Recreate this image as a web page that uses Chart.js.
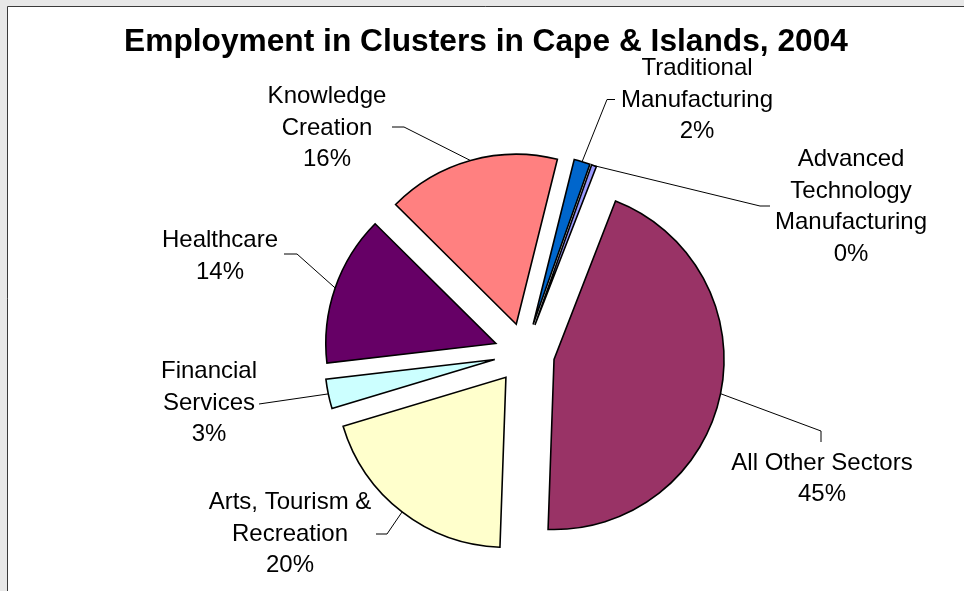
<!DOCTYPE html>
<html>
<head>
<meta charset="utf-8">
<script src="https://cdn.jsdelivr.net/npm/chart.js@4/dist/chart.umd.min.js"></script>
<style>
  html, body { margin: 0; padding: 0; background: #fff; }
  canvas { display: block; }
</style>
</head>
<body>
<canvas id="c" width="964" height="591"></canvas>
<script>
// Employment by cluster, Cape & Islands, 2004 (share of total employment, %)
const chartTitle = 'Employment in Clusters in Cape & Islands, 2004';
const categories = [
  'Traditional\nManufacturing',
  'Advanced\nTechnology\nManufacturing',
  'All Other Sectors',
  'Arts, Tourism &\nRecreation',
  'Financial\nServices',
  'Healthcare',
  'Knowledge\nCreation'
];
const shares = [1.53, 0.47, 44.67, 19.8, 2.8, 14.28, 16.45];
const sliceColors = ['#0066CC', '#9999FF', '#993366', '#FFFFCC', '#CCFFFF', '#660066', '#FF8080'];

// Label placement: centre x, first baseline y, leader elbow and leader end
const labelLayout = [
  { x: 697, y: 75,    elbow: [607, 99.5], end: [615, 99.5] },
  { x: 851, y: 166,   elbow: [760, 206],  end: [770, 206] },
  { x: 822, y: 469.5, elbow: [821, 431],  end: [821, 442] },
  { x: 290, y: 509,   elbow: [387, 534],  end: [376, 534] },
  { x: 209, y: 378,   elbow: [259, 404],  end: [259, 404] },
  { x: 220, y: 247,   elbow: [297, 254],  end: [284, 254] },
  { x: 327, y: 103,   elbow: [404, 127],  end: [392, 127] }
];

const RADIUS = 170;     // pie radius in px
const EXPLODE = 121;    // Chart.js arc offset (slices move offset/4 outwards)
const LINE_H = 31.5;

// Exploded arcs get a radius bump and a slight angular trim from Chart.js;
// undo both so every slice keeps the full radius and its true angle.
const evenRadius = {
  id: 'evenRadius',
  afterDatasetsUpdate(chart) {
    chart.getDatasetMeta(0).data.forEach(arc => {
      const circ = arc.endAngle - arc.startAngle;
      const fix = 1 - Math.sin(Math.min(Math.PI, circ));
      const bump = (EXPLODE / 4) * fix;
      arc.outerRadius = RADIUS - bump;
      const trim = bump / (Math.PI * RADIUS);
      arc.startAngle -= trim / 2;
      arc.endAngle += trim / 2;
    });
  }
};

const decor = {
  id: 'decor',
  beforeDraw(chart) {
    const ctx = chart.ctx;
    const w = chart.width, h = chart.height;
    ctx.save();
    ctx.fillStyle = '#e8e8e8';
    ctx.fillRect(0, 0, w, h);
    ctx.fillStyle = '#ffffff';
    ctx.fillRect(8, 7, w - 8, h - 7);
    ctx.strokeStyle = '#3a3a3a';
    ctx.lineWidth = 1;
    ctx.beginPath();
    ctx.moveTo(7.5, h);
    ctx.lineTo(7.5, 6.5);
    ctx.lineTo(w, 6.5);
    ctx.stroke();
    ctx.restore();
  },
  afterDatasetsDraw(chart) {
    const ctx = chart.ctx;
    const arcs = chart.getDatasetMeta(0).data;
    const values = chart.data.datasets[0].data;
    const total = values.reduce((a, b) => a + b, 0);
    ctx.save();

    // leader lines from the middle of each slice's rim
    ctx.strokeStyle = '#000';
    ctx.lineWidth = 1;
    arcs.forEach((arc, i) => {
      const mid = (arc.startAngle + arc.endAngle) / 2;
      const t = EXPLODE / 4;
      const px = arc.x + Math.cos(mid) * (t + RADIUS);
      const py = arc.y + Math.sin(mid) * (t + RADIUS);
      const L = labelLayout[i];
      ctx.beginPath();
      ctx.moveTo(px, py);
      ctx.lineTo(L.elbow[0], L.elbow[1]);
      ctx.lineTo(L.end[0], L.end[1]);
      ctx.stroke();
    });

    // category + percentage labels
    ctx.fillStyle = '#000';
    ctx.textAlign = 'center';
    ctx.textBaseline = 'alphabetic';
    ctx.font = '24px "Liberation Sans", Arial, sans-serif';
    categories.forEach((name, i) => {
      const L = labelLayout[i];
      const lines = name.split('\n');
      lines.push(Math.round(values[i] / total * 100) + '%');
      lines.forEach((s, k) => ctx.fillText(s, L.x, L.y + k * LINE_H));
    });

    // title
    ctx.font = 'bold 31.7px "Liberation Sans", Arial, sans-serif';
    ctx.fillText(chartTitle, 486, 51);
    ctx.restore();
  }
};

new Chart(document.getElementById('c'), {
  type: 'pie',
  data: {
    labels: categories.map(s => s.replace(/\n/g, ' ')),
    datasets: [{
      data: shares,
      backgroundColor: sliceColors,
      borderColor: '#000',
      borderWidth: 1.6,
      borderJoinStyle: 'miter',
      offset: EXPLODE
    }]
  },
  options: {
    responsive: false,
    animation: false,
    events: [],
    rotation: 14,
    radius: RADIUS,
    layout: { padding: { left: 200, right: 115.2, top: 130, bottom: 14.2 } },
    plugins: {
      legend: { display: false },
      title: { display: false },
      tooltip: { enabled: false }
    }
  },
  plugins: [evenRadius, decor]
});
</script>
</body>
</html>
